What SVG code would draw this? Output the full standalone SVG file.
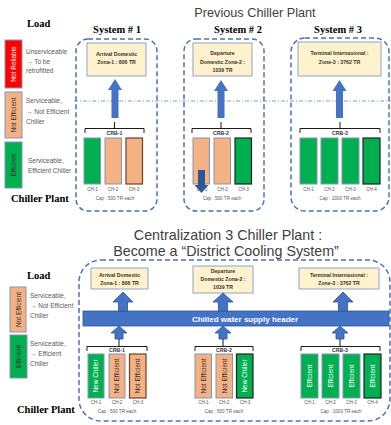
<svg xmlns="http://www.w3.org/2000/svg" width="391" height="425" viewBox="0 0 391 425">
<defs>
<style>
.title{font-family:"Liberation Sans",Arial,sans-serif;fill:#404040;text-anchor:middle}
.hd{font-family:"Liberation Serif","Times New Roman",serif;font-weight:bold;fill:#000}
.lg{font-family:"Liberation Sans",Arial,sans-serif;font-size:6.5px;fill:#595959}
.sys{fill:none;stroke:#4A72B8;stroke-width:1.5;stroke-dasharray:5 3}
.load{fill:#FFF2CC;stroke:#8EA5C8;stroke-width:1}
.lt{font-family:"Liberation Sans",Arial,sans-serif;font-size:5.2px;font-weight:bold;fill:#333;text-anchor:middle}
.arr{fill:#4472C4}
.arr2{fill:#4472C4;stroke:#2F5597;stroke-width:0.8}
.brace{fill:none;stroke:#000;stroke-width:0.9}
.crb{font-family:"Liberation Sans",Arial,sans-serif;font-size:5.2px;font-weight:bold;fill:#333;text-anchor:middle}
.ch{font-family:"Liberation Sans",Arial,sans-serif;font-size:4.6px;fill:#595959;text-anchor:middle}
.g{fill:#00B050;stroke:#8497B0;stroke-width:1}
.gk{fill:#00B050;stroke:#222;stroke-width:1.2}
.o{fill:#F4B183;stroke:#8497B0;stroke-width:1}
.ok{fill:#F4B183;stroke:#6B4226;stroke-width:1.2}
.r{fill:#FF0000;stroke:#8497B0;stroke-width:1}
.vt{font-family:"Liberation Sans",Arial,sans-serif;font-size:6.5px;text-anchor:middle}
.w{fill:#fff}
.d{fill:#333}
</style>
</defs>

<!-- Titles -->
<text class="title" x="255" y="17" font-size="12.7">Previous Chiller Plant</text>
<text class="title" x="228" y="240" font-size="14.3">Centralization 3 Chiller Plant :</text>
<text class="title" x="226" y="256" font-size="14.3">Become a “District Cooling System”</text>

<!-- Top legend -->
<g id="legend-top">
<text class="hd" x="27" y="27" font-size="10.5">Load</text>
<rect class="r" x="5" y="40" width="17" height="48"/>
<text class="vt w" transform="translate(16,64) rotate(-90)">Not Reliable</text>
<text class="lg" x="26" y="54">Unserviceable</text>
<text class="lg" x="26" y="64">→ To be</text>
<text class="lg" x="26" y="73">retrofitted</text>
<rect class="o" x="5" y="92" width="17" height="46"/>
<text class="vt d" transform="translate(16,115) rotate(-90)">Not Efficient</text>
<text class="lg" x="26" y="103">Serviceable,</text>
<text class="lg" x="26" y="114">→ Not Efficient</text>
<text class="lg" x="26" y="124">Chiller</text>
<rect class="g" x="5" y="142" width="17" height="46"/>
<text class="vt d" transform="translate(16,165) rotate(-90)">Efficient</text>
<text class="lg" x="28" y="163">Serviceable,</text>
<text class="lg" x="28" y="173">Efficient Chiller</text>
<text class="hd" x="11" y="202" font-size="10.5">Chiller Plant</text>
</g>

<!-- dash-dot separator -->
<g id="connectors">
<line x1="74" y1="101" x2="391" y2="101" stroke="#7F9FD3" stroke-width="1" stroke-dasharray="4 2 1 2"/>
</g>

<!-- System 1 -->
<g id="system1">
<text class="hd" x="117" y="33" font-size="10.5" text-anchor="middle">System # 1</text>
<rect class="sys" x="76" y="39" width="81" height="172" rx="12"/>
<rect class="load" x="87" y="43" width="59" height="33"/>
<text class="lt" x="116.5" y="56">Arrival Domestic</text>
<text class="lt" x="116.5" y="64">Zona-1 : 806 TR</text>
<path class="arr" d="M115 79 L122 90 L118.5 90 L118.5 118 L111.5 118 L111.5 90 L108 90 Z"/>
<path class="brace" d="M85 133 L85 128.5 L144 128.5 L144 133 M114.5 128.5 L114.5 122"/>
<text class="crb" x="114.5" y="134.5">CRB-1</text>
<rect class="g" x="84" y="138" width="16.5" height="46"/>
<rect class="o" x="105" y="138" width="16.5" height="46"/>
<rect class="ok" x="126" y="138" width="16.5" height="46"/>
<text class="ch" x="92.5" y="191">CH-1</text>
<text class="ch" x="113" y="191">CH-2</text>
<text class="ch" x="134" y="191">CH-3</text>
<text class="ch" x="115" y="200">Cap : 500 TR each</text>
</g>

<!-- System 2 -->
<g id="system2">
<text class="hd" x="238" y="33" font-size="10.5" text-anchor="middle">System # 2</text>
<rect class="sys" x="184" y="39" width="80" height="172" rx="12"/>
<rect class="load" x="193" y="43" width="59" height="33"/>
<text class="lt" x="222.5" y="55">Departure</text>
<text class="lt" x="222.5" y="63.5">Domestic Zona-2 :</text>
<text class="lt" x="222.5" y="72">1039 TR</text>
<path class="arr" d="M221 80 L228 91 L224.5 91 L224.5 118 L217.5 118 L217.5 91 L214 91 Z"/>
<path class="brace" d="M192 133 L192 128.5 L251 128.5 L251 133 M221 128.5 L221 122"/>
<text class="crb" x="221" y="134.5">CRB-2</text>
<rect class="o" x="193" y="138" width="16.5" height="46"/>
<rect class="o" x="214" y="138" width="16.5" height="46"/>
<rect class="gk" x="235" y="138" width="16.5" height="46"/>
<text class="ch" x="202" y="191">CH-1</text>
<text class="ch" x="222.5" y="191">CH-2</text>
<text class="ch" x="243.5" y="191">CH-3</text>
<text class="ch" x="222" y="200">Cap : 500 TR each</text>
<path d="M198 170 L205 170 L205 185 L208.5 185 L201.5 193 L194.5 185 L198 185 Z" fill="#2F5597"/>
</g>

<!-- System 3 -->
<g id="system3">
<text class="hd" x="338" y="33" font-size="10.5" text-anchor="middle">System # 3</text>
<rect class="sys" x="291" y="38" width="98" height="173" rx="14"/>
<rect class="load" x="298" y="42" width="83" height="34"/>
<text class="lt" x="339.5" y="55">Terminal Internasional :</text>
<text class="lt" x="339.5" y="63.5">Zone-3 : 3762 TR</text>
<path class="arr" d="M339.5 80 L346.5 91 L343 91 L343 118 L336 118 L336 91 L332.5 91 Z"/>
<path class="brace" d="M300 133 L300 128.5 L380 128.5 L380 133 M340 128.5 L340 122"/>
<text class="crb" x="340" y="134.5">CRB-3</text>
<rect class="g" x="300" y="138" width="17" height="46"/>
<rect class="g" x="321" y="138" width="17" height="46"/>
<rect class="g" x="342" y="138" width="17" height="46"/>
<rect class="gk" x="363" y="138" width="17" height="46"/>
<text class="ch" x="308.5" y="191">CH-1</text>
<text class="ch" x="329.5" y="191">CH-2</text>
<text class="ch" x="350.5" y="191">CH-3</text>
<text class="ch" x="371.5" y="191">CH-4</text>
<text class="ch" x="340" y="200">Cap : 1000 TR each</text>
</g>

<!-- Bottom legend -->
<g id="legend-bottom">
<text class="hd" x="27" y="279" font-size="10.5">Load</text>
<rect class="o" x="10" y="287" width="16" height="45"/>
<text class="vt d" transform="translate(20.5,309.5) rotate(-90)">Not Efficient</text>
<text class="lg" x="30" y="298">Serviceable,</text>
<text class="lg" x="30" y="308">→ Not Efficient</text>
<text class="lg" x="30" y="318">Chiller</text>
<rect class="g" x="10" y="335" width="17" height="43"/>
<text class="vt d" transform="translate(20.5,356.5) rotate(-90)">Efficient</text>
<text class="lg" x="30" y="346">Serviceable,</text>
<text class="lg" x="30" y="356">→ Efficient</text>
<text class="lg" x="30" y="366">Chiller</text>
<text class="hd" x="17" y="413" font-size="10.5">Chiller Plant</text>
</g>

<!-- District cooling system -->
<g id="district">
<rect class="sys" x="79" y="260" width="311" height="161" rx="22"/>
<rect x="83" y="311" width="306" height="15" fill="#4472C4" stroke="#2F5597" stroke-width="0.8"/>
<text x="245" y="321.5" font-family="'Liberation Sans',Arial,sans-serif" font-size="8" font-weight="bold" fill="#fff" text-anchor="middle">Chilled water supply header</text>
</g>

<g id="load1">
<rect class="load" x="91" y="268" width="57" height="21"/>
<text class="lt" x="119.5" y="277">Arrival Domestic</text>
<text class="lt" x="119.5" y="285">Zona-1 : 806 TR</text>
</g>
<g id="load2">
<rect class="load" x="193" y="266" width="60" height="27"/>
<text class="lt" x="223" y="273">Departure</text>
<text class="lt" x="223" y="281">Domestic Zona-2 :</text>
<text class="lt" x="223" y="289">1039 TR</text>
</g>
<g id="load3">
<rect class="load" x="299" y="268" width="80" height="21"/>
<text class="lt" x="339" y="277">Terminal Internasional :</text>
<text class="lt" x="339" y="285">Zone-3 : 3762 TR</text>
</g>

<g id="arrows-bottom">
<path class="arr2" d="M123 292 L133 302 L127.5 302 L127.5 311 L118.5 311 L118.5 302 L113 302 Z"/>
<path class="arr2" d="M223 293 L233 302 L227.5 302 L227.5 311 L218.5 311 L218.5 302 L213 302 Z"/>
<path class="arr2" d="M343 292 L353 302 L347.5 302 L347.5 311 L338.5 311 L338.5 302 L333 302 Z"/>
<path class="arr2" d="M119 326 L127 333 L123 333 L123 339 L115 339 L115 333 L111 333 Z"/>
<path class="arr2" d="M223 326 L231 333 L227 333 L227 339 L219 339 L219 333 L215 333 Z"/>
<path class="arr2" d="M340 326 L348 333 L344 333 L344 339 L336 339 L336 333 L332 333 Z"/>
</g>

<g id="crb1">
<path class="brace" d="M87 351 L87 346.5 L147 346.5 L147 351 M119 346.5 L119 339"/>
<text class="crb" x="117" y="352">CRB-1</text>
<rect class="g" x="88" y="354" width="16" height="44"/>
<rect class="o" x="109" y="354" width="16" height="44"/>
<rect class="ok" x="129.5" y="354" width="16.5" height="44"/>
<text class="vt w" transform="translate(98.3,376) rotate(-90)">New Chiller</text>
<text class="vt d" transform="translate(119.3,376) rotate(-90)">Not Efficient</text>
<text class="vt d" transform="translate(140,376) rotate(-90)">Not Efficient</text>
<text class="ch" x="96" y="404">CH-1</text>
<text class="ch" x="117" y="404">CH-2</text>
<text class="ch" x="138" y="404">CH-3</text>
<text class="ch" x="117" y="413">Cap : 500 TR each</text>
</g>

<g id="crb2">
<path class="brace" d="M195 351 L195 346.5 L253 346.5 L253 351 M223 346.5 L223 339"/>
<text class="crb" x="224" y="352">CRB-2</text>
<rect class="o" x="195" y="354" width="16.5" height="44"/>
<rect class="o" x="216" y="354" width="16.5" height="44"/>
<rect class="gk" x="236.5" y="354" width="16.5" height="44"/>
<text class="vt d" transform="translate(205.5,376) rotate(-90)">Not Efficient</text>
<text class="vt d" transform="translate(226.5,376) rotate(-90)">Not Efficient</text>
<text class="vt w" transform="translate(247,376) rotate(-90)">New Chiller</text>
<text class="ch" x="203.5" y="404">CH-1</text>
<text class="ch" x="224" y="404">CH-2</text>
<text class="ch" x="245" y="404">CH-3</text>
<text class="ch" x="224" y="413">Cap : 500 TR each</text>
</g>

<g id="crb3">
<path class="brace" d="M301 351 L301 346.5 L380 346.5 L380 351 M340 346.5 L340 339"/>
<text class="crb" x="340" y="352">CRB-3</text>
<rect class="g" x="301" y="354" width="17" height="44"/>
<rect class="g" x="322" y="354" width="17" height="44"/>
<rect class="g" x="343" y="354" width="17" height="44"/>
<rect class="gk" x="364" y="354" width="17" height="44"/>
<text class="vt w" transform="translate(311.8,376) rotate(-90)">Efficient</text>
<text class="vt w" transform="translate(332.8,376) rotate(-90)">Efficient</text>
<text class="vt w" transform="translate(353.8,376) rotate(-90)">Efficient</text>
<text class="vt w" transform="translate(374.8,376) rotate(-90)">Efficient</text>
<text class="ch" x="309.5" y="404">CH-1</text>
<text class="ch" x="330.5" y="404">CH-2</text>
<text class="ch" x="351.5" y="404">CH-3</text>
<text class="ch" x="372.5" y="404">CH-4</text>
<text class="ch" x="341" y="413">Cap : 1000 TR each</text>
</g>
</svg>
